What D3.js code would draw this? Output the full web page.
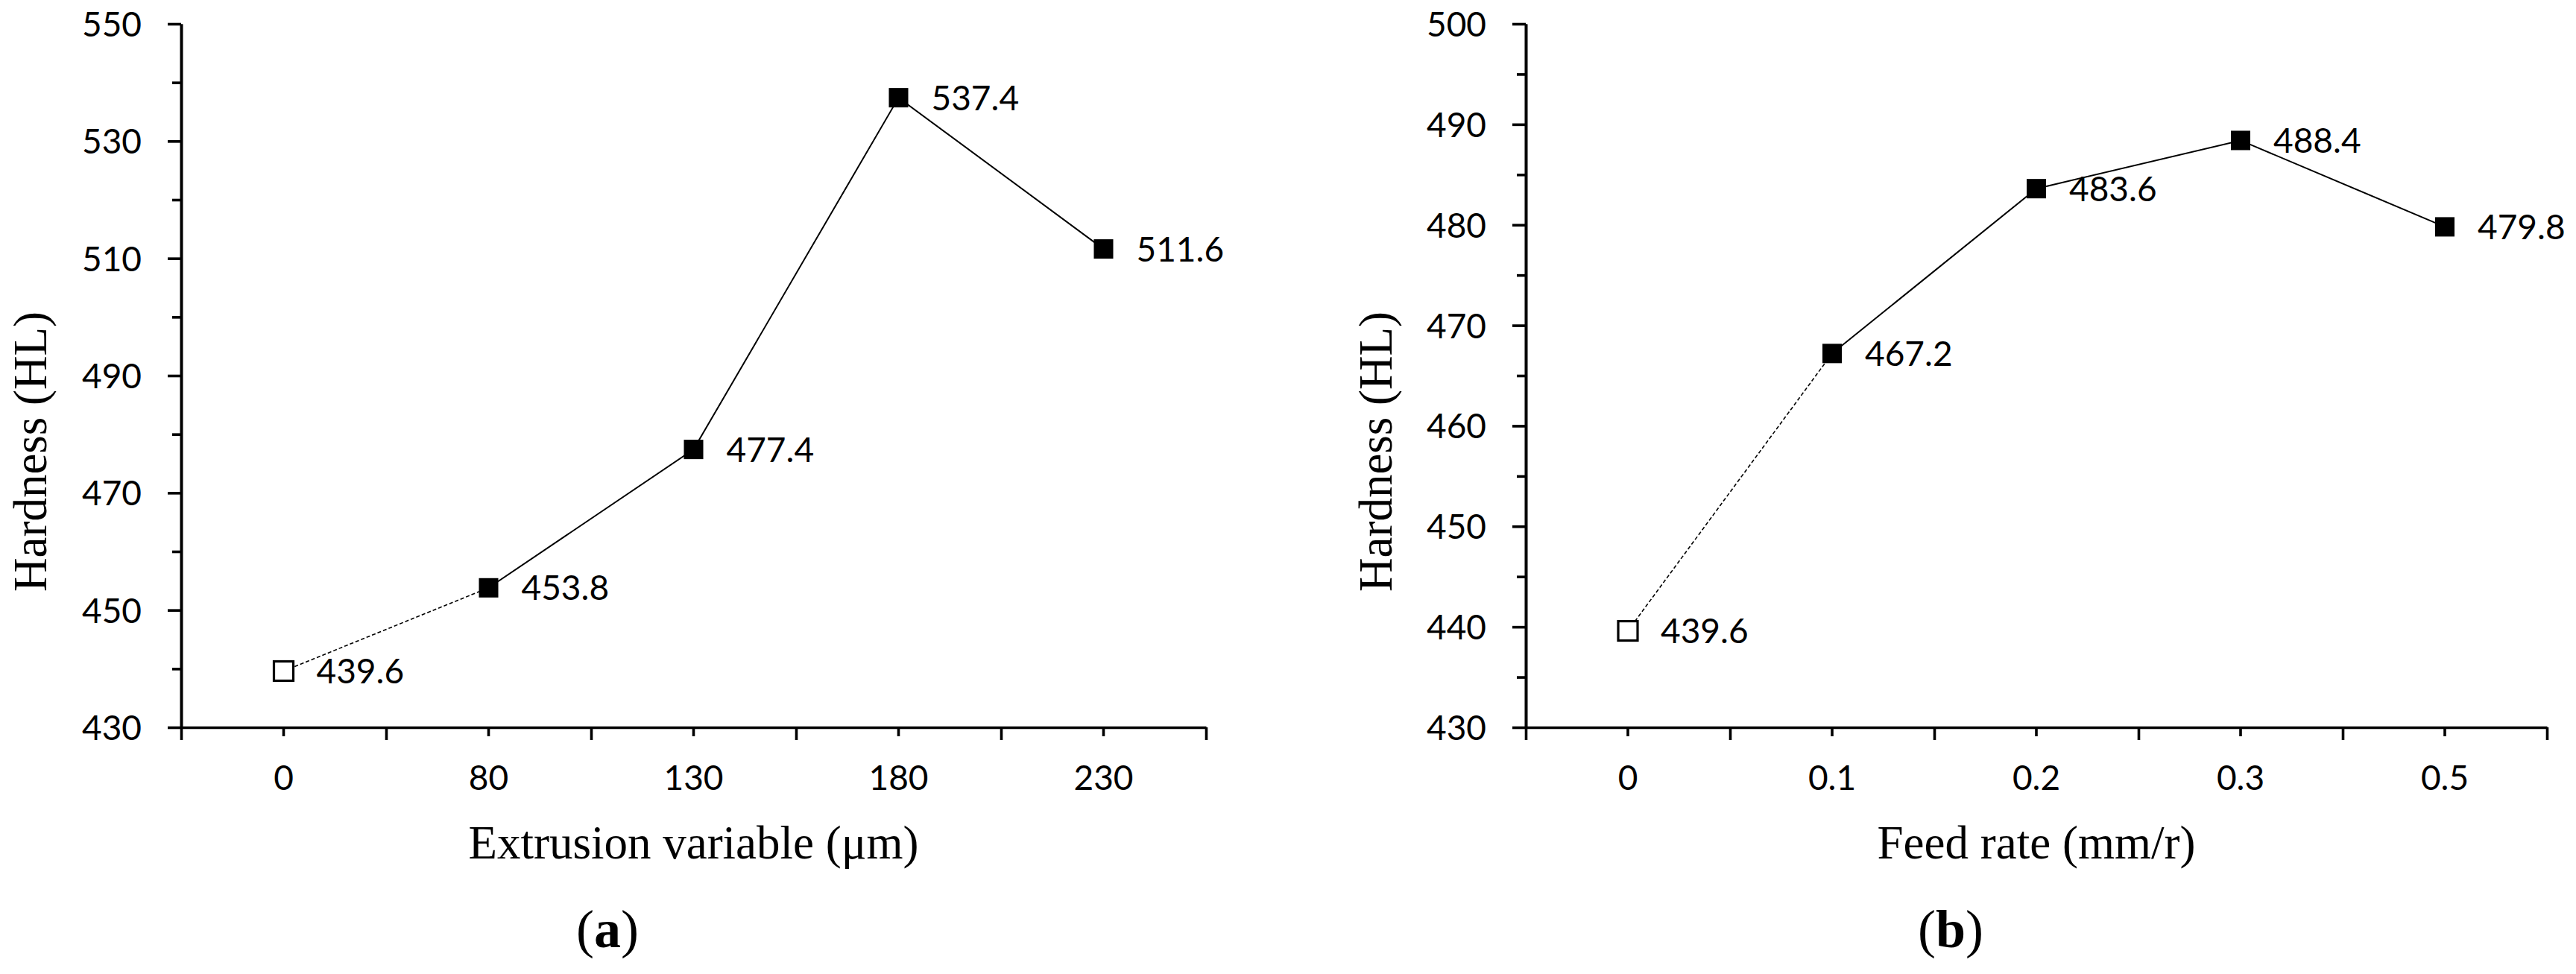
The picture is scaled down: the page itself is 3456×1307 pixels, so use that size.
<!DOCTYPE html>
<html>
<head>
<meta charset="utf-8">
<script src="https://cdn.jsdelivr.net/npm/d3@7"></script>
<style>
  body { margin: 0; background: #fff; }
  .tick text, .dlabel { font-family: Lato, "Open Sans", sans-serif; font-size: 46px; fill: #000; }
  .title { font-family: "Liberation Serif", "Times New Roman", serif; font-size: 63px; fill: #000; }
  .panel { font-family: "Liberation Serif", "Times New Roman", serif; font-size: 72px; fill: #000; }
  .axis path, .axis line { stroke: #000; stroke-width: 3.6; }
</style>
</head>
<body>
<div id="chart"></div>
<script>
// Panel (a): extrusion variable
const extrusionCats = ["0", "80", "130", "180", "230"];
const extrusionHardness = [439.6, 453.8, 477.4, 537.4, 511.6];
const extrusionMajor = [430, 450, 470, 490, 510, 530, 550];
const extrusionMinor = [440, 460, 480, 500, 520, 540];

// Panel (b): feed rate
const feedCats = ["0", "0.1", "0.2", "0.3", "0.5"];
const feedHardness = [439.6, 467.2, 483.6, 488.4, 479.8];
const feedMajor = [430, 440, 450, 460, 470, 480, 490, 500];
const feedMinor = [435, 445, 455, 465, 475, 485, 495];

const W = 3456, H = 1307;

const svg = d3.select("#chart").append("svg")
    .attr("width", W)
    .attr("height", H)
    .attr("viewBox", "0 0 " + W + " " + H);

function drawPanel(cfg) {
    const g = svg.append("g");

    const x = d3.scaleBand().domain(cfg.cats).range([cfg.x0, cfg.x1]);
    const xi = d3.scaleLinear().domain([0, cfg.cats.length]).range([cfg.x0, cfg.x1]);
    const y = d3.scaleLinear().domain(cfg.yDomain).range([976, 32]);
    const cx = function(i) { return x(cfg.cats[i]) + x.bandwidth() / 2; };

    // y axis: minor ticks, then major ticks with labels
    g.append("g").attr("class", "axis")
        .attr("transform", "translate(" + cfg.x0 + ",0)")
        .call(d3.axisLeft(y).tickValues(cfg.minor).tickSize(12).tickSizeOuter(0).tickFormat(""));
    g.append("g").attr("class", "axis")
        .attr("transform", "translate(" + cfg.x0 + ",0)")
        .call(d3.axisLeft(y).tickValues(cfg.major).tickSize(18).tickSizeOuter(0).tickPadding(35))
        .selectAll("text").attr("dy", "0.36em");

    // x axis: boundary ticks + category labels at centres
    g.append("g").attr("class", "axis")
        .attr("transform", "translate(0,976)")
        .call(d3.axisBottom(xi).tickValues(d3.range(cfg.cats.length + 1)).tickSize(17).tickSizeOuter(0).tickFormat(""));
    g.append("g").attr("class", "axis")
        .attr("transform", "translate(0,976)")
        .call(d3.axisBottom(x).tickSize(12).tickSizeOuter(0).tickPadding(39))
        .select(".domain").remove();

    // series line: dotted first segment, solid rest
    const line = d3.line().x(function(d) { return cx(d.i); }).y(function(d) { return y(d.v); });
    const pts = cfg.values.map(function(v, i) { return {i: i, v: v}; });

    g.append("path")
        .attr("d", line(pts.slice(0, 2)))
        .attr("fill", "none").attr("stroke", "#000")
        .attr("stroke-width", 1.6).attr("stroke-dasharray", "5,3");
    g.append("path")
        .attr("d", line(pts.slice(1)))
        .attr("fill", "none").attr("stroke", "#000")
        .attr("stroke-width", 2);

    // markers
    const s = 26;
    g.selectAll(".mk").data(pts).enter().append("rect")
        .attr("class", "mk")
        .attr("x", function(d) { return cx(d.i) - s / 2; })
        .attr("y", function(d) { return y(d.v) - s / 2; })
        .attr("width", s).attr("height", s)
        .attr("fill", function(d) { return d.i === 0 ? "#fff" : "#000"; })
        .attr("stroke", "#000")
        .attr("stroke-width", function(d) { return d.i === 0 ? 3.2 : 0; });

    // data labels
    g.selectAll(".dlabel").data(pts).enter().append("text")
        .attr("class", "dlabel")
        .attr("x", function(d) { return cx(d.i) + 44; })
        .attr("y", function(d) { return y(d.v); })
        .attr("dy", "0.36em")
        .text(function(d) { return d.v.toFixed(1); });

    // axis titles
    g.append("text").attr("class", "title")
        .attr("text-anchor", "middle")
        .attr("transform", "translate(" + cfg.yTitleX + ",606) rotate(-90)")
        .text("Hardness (HL)");
    g.append("text").attr("class", "title")
        .attr("text-anchor", "middle")
        .attr("x", (cfg.x0 + cfg.x1) / 2).attr("y", 1152)
        .text(cfg.xTitle);

    // panel letter
    const p = g.append("text").attr("class", "panel")
        .attr("text-anchor", "middle")
        .attr("x", cfg.panelX).attr("y", 1271);
    p.append("tspan").text("(");
    p.append("tspan").attr("font-weight", "bold").text(cfg.panel);
    p.append("tspan").text(")");
}

drawPanel({
    cats: extrusionCats, values: extrusionHardness,
    major: extrusionMajor, minor: extrusionMinor, yDomain: [430, 550],
    x0: 243, x1: 1618, yTitleX: 62,
    xTitle: "Extrusion variable (\u03bcm)", panel: "a", panelX: 815
});

drawPanel({
    cats: feedCats, values: feedHardness,
    major: feedMajor, minor: feedMinor, yDomain: [430, 500],
    x0: 2047, x1: 3417, yTitleX: 1867,
    xTitle: "Feed rate (mm/r)", panel: "b", panelX: 2617
});
</script>
</body>
</html>
